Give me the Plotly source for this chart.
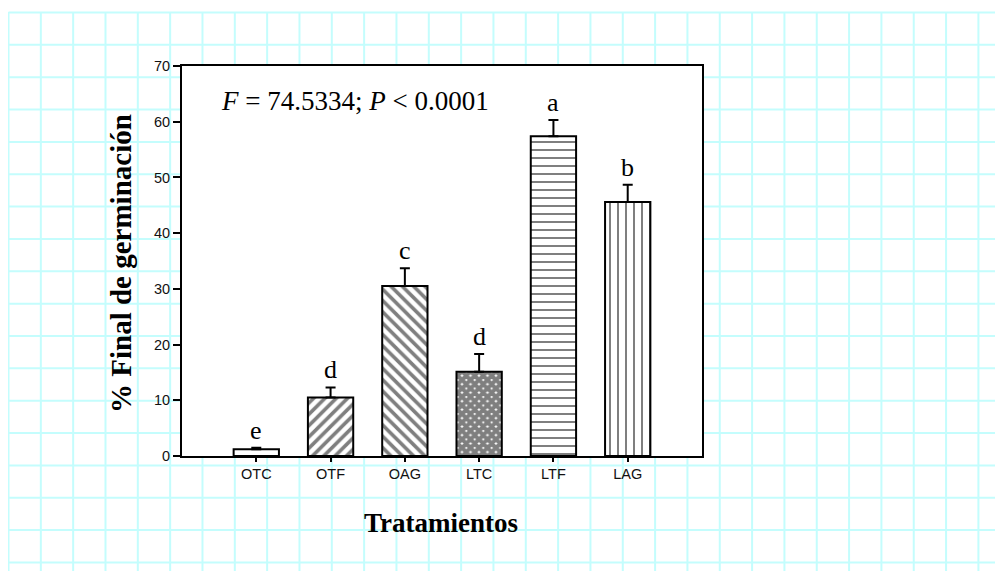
import plotly.graph_objects as go

# ---- data ----
categories = ["OTC", "OTF", "OAG", "LTC", "LTF", "LAG"]
means = [1.2, 10.5, 30.5, 15.1, 57.4, 45.6]
errors = [0.3, 1.8, 3.2, 3.2, 2.9, 3.1]
letters = ["e", "d", "c", "d", "a", "b"]
y_ticks = [0, 10, 20, 30, 40, 50, 60, 70]
stats_text = "<i>F</i> = 74.5334; <i>P</i> < 0.0001"
x_title = "Tratamientos"
y_title = "% Final de germinación"

# ---- styling ----
patterns = ["", "/", "\\", "x", "-", "|"]
pattern_sizes = [8, 8, 8, 6, 8, 8]
pattern_solid = [0.2, 0.45, 0.45, 0.9, 0.25, 0.25]

W, H = 1003, 571
OFF = 8  # page body margin in the browser
# plot area in screen (reference) pixels
PL, PT, PR, PB = 182, 66, 702, 456
PW, PH = PR - PL, PB - PT
L, T = PL - OFF, PT - OFF
R, B = W - (PR - OFF), H - (PB - OFF)
SERIF = "Liberation Serif, Times New Roman, serif"
SANS = "Liberation Sans, Arial, sans-serif"
GRID = "#C4FDFD"

def px_x(px):
    return (px - PL) / PW

def px_y(py):
    return (PB - py) / PH

fig = go.Figure()
fig.add_trace(go.Bar(
    x=categories, y=means, width=0.61,
    marker=dict(color="white", line=dict(color="black", width=2),
                pattern=dict(shape=patterns, size=pattern_sizes, solidity=pattern_solid,
                             fgcolor="black", bgcolor="white")),
    error_y=dict(type="data", array=errors, arrayminus=[0] * len(errors), symmetric=False,
                 color="black", thickness=2, width=5),
    showlegend=False,
))

# letters above error bars
for c, m, e, t in zip(categories, means, errors, letters):
    fig.add_annotation(x=c, y=m + e, text=t, showarrow=False, yanchor="bottom", yshift=1,
                       font=dict(family=SERIF, size=26, color="black"))

shapes = []
# background grid (decoration)
k = 0
while 8.5 + 32.33 * k < W + OFF:
    x = 8.5 + 32.33 * k
    shapes.append(dict(type="line", xref="paper", yref="paper", x0=px_x(x), x1=px_x(x),
                       y0=px_y(12), y1=px_y(H + 20), line=dict(color=GRID, width=2), layer="below"))
    k += 1
k = 0
while 12.5 + 32.35 * k < H + OFF:
    y = 12.5 + 32.35 * k
    shapes.append(dict(type="line", xref="paper", yref="paper", x0=px_x(8.5), x1=px_x(W + 20),
                       y0=px_y(y), y1=px_y(y), line=dict(color=GRID, width=2), layer="below"))
    k += 1
shapes.append(dict(type="rect", xref="paper", yref="paper", x0=0, x1=1, y0=0, y1=1,
                   fillcolor="white", line=dict(width=0), layer="below"))

fig.add_annotation(xref="paper", yref="paper", x=px_x(219), y=px_y(101), xanchor="left", yanchor="middle",
                   text=stats_text, showarrow=False, font=dict(family=SERIF, size=27, color="black"))
fig.add_annotation(xref="paper", yref="paper", x=px_x(441), y=px_y(523), xanchor="center", yanchor="middle",
                   text="<b>" + x_title + "</b>", showarrow=False, font=dict(family=SERIF, size=27, color="black"))
fig.add_annotation(xref="paper", yref="paper", x=px_x(121), y=px_y(264), xanchor="center", yanchor="middle",
                   text="<b>" + y_title + "</b>", textangle=-90, showarrow=False,
                   font=dict(family=SERIF, size=29, color="black"))

fig.update_layout(
    width=W, height=H, margin=dict(l=L, r=R, t=T, b=B, pad=0),
    paper_bgcolor="white", plot_bgcolor="white",
    shapes=shapes, bargap=0.39,
    xaxis=dict(type="category", range=[-1, 6], showline=True, linecolor="black", linewidth=2, mirror=True,
               ticks="outside", ticklen=4, tickwidth=2, tickcolor="black", showgrid=False, zeroline=False,
               tickfont=dict(family=SANS, size=14.5, color="#111")),
    yaxis=dict(range=[0, 70], tickvals=y_ticks, showline=True, linecolor="black", linewidth=2, mirror=True,
               ticks="outside", ticklen=7, tickwidth=2, tickcolor="black", showgrid=False, zeroline=False,
               tickfont=dict(family=SANS, size=14.5, color="#111")),
)

fig.write_html("out.html")
